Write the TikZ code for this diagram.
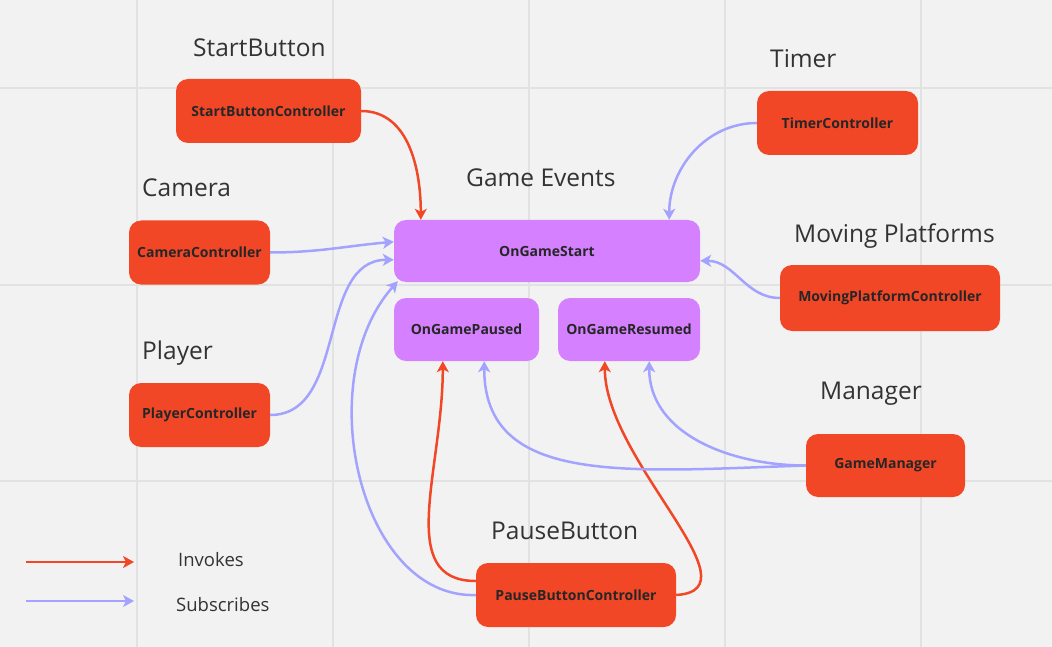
\documentclass[tikz,border=0pt]{standalone}
\usepackage{fontspec}
\setmainfont{Open Sans}
\usetikzlibrary{arrows.meta}
\definecolor{ctrlred}{HTML}{F24726}
\definecolor{evpurple}{HTML}{D580FF}
\definecolor{subblue}{HTML}{A3A3FF}
\definecolor{bggray}{HTML}{F2F2F2}
\definecolor{gridgray}{HTML}{E2E2E2}
\definecolor{labelgray}{HTML}{333333}
\begin{document}
\begin{tikzpicture}[x=1pt,y=-1pt,
  ctrl/.style={fill=ctrlred,rounded corners=12pt,minimum height=64pt,inner sep=0pt,text=black!85,font=\fontsize{14}{16}\selectfont\bfseries},
  event/.style={ctrl,fill=evpurple,minimum height=62pt},
  title/.style={anchor=base west,inner sep=0pt,text=labelgray,font=\fontsize{24.5}{28}\selectfont},
  legend/.style={title,font=\fontsize{18.5}{22}\selectfont},
  invoke/.style={draw=ctrlred,line width=2.5pt,-{Stealth[length=11pt,width=12pt,inset=3pt]}},
  subscribe/.style={invoke,draw=subblue}]
\useasboundingbox[fill=bggray] (0,0) rectangle (1052,647);
\foreach \gx in {137,333,529,725,921} \draw[gridgray,line width=1.2pt] (\gx,0) -- (\gx,647);
\foreach \gy in {88,285,481} \draw[gridgray,line width=1.2pt] (0,\gy) -- (1052,\gy);
\node[ctrl,minimum width=185pt] (sbc) at (268.5,111) {StartButtonController};
\node[ctrl,minimum width=141pt] (camc) at (199.5,252.5) {CameraController};
\node[ctrl,minimum width=141pt] (plc) at (199.5,415) {PlayerController};
\node[ctrl,minimum width=161pt] (tmc) at (837.5,123) {TimerController};
\node[ctrl,minimum width=220pt,minimum height=66pt] (mpc) at (890,298) {MovingPlatformController};
\node[ctrl,minimum width=159pt,minimum height=63pt] (gm) at (885.5,465.5) {GameManager};
\node[ctrl,minimum width=200pt] (pbc) at (576,595) {PauseButtonController};
\node[event,minimum width=306pt] (evstart) at (547,251) {OnGameStart};
\node[event,minimum width=145pt,minimum height=63pt] (evpaused) at (466.5,329.5) {OnGamePaused};
\node[event,minimum width=142pt,minimum height=63pt] (evresumed) at (629,329.5) {OnGameResumed};
\node[title] (sbtitle) at (193,57) {StartButton};
\node[title] (camtitle) at (142,197) {Camera};
\node[title] (evtitle) at (466,187) {Game Events};
\node[title] (tmtitle) at (770,68) {Timer};
\node[title] (mptitle) at (794,242) {Moving Platforms};
\node[title] (pltitle) at (142,359) {Player};
\node[title] (gmtitle) at (820,399) {Manager};
\node[title] (pbtitle) at (491,539) {PauseButton};
\draw[invoke] (sbc.east) to[out=0,in=90] ([xshift=27pt]evstart.north west);
\draw[subscribe] (camc.east) to[out=0,in=185] ([yshift=-22pt]evstart.north west);
\draw[subscribe] (plc.east) to[out=0,in=180] ([yshift=-40pt]evstart.north west);
\draw[subscribe] (pbc.west) .. controls +(-116,4) and +(-88,99) .. ([xshift=4pt,yshift=1pt]evstart.south west);
\draw[invoke] ([yshift=14pt]pbc.west) .. controls +(-81,0) and +(0,109) .. ([xshift=49pt]evpaused.south west);
\draw[invoke] (pbc.east) .. controls +(84,-5) and +(0,99) .. ([xshift=47pt]evresumed.south west);
\draw[subscribe] (gm.west) .. controls +(-180,6) and +(0,125) .. ([xshift=-55pt]evpaused.south east);
\draw[subscribe] (gm.west) to[out=180,in=-90] ([xshift=-51pt]evresumed.south east);
\draw[subscribe] (tmc.west) to[out=180,in=90] ([xshift=-31pt]evstart.north east);
\draw[subscribe] (mpc.west) to[out=180,in=0] ([yshift=-41pt]evstart.north east);
\coordinate (invA) at (26,562);
\coordinate (invB) at (134,562);
\coordinate (subA) at (26,601);
\coordinate (subB) at (134,601);
\draw[invoke] (invA) -- (invB);
\draw[subscribe] (subA) -- (subB);
\node[legend] (invtxt) at (178,566) {Invokes};
\node[legend] (subtxt) at (176,611) {Subscribes};
\end{tikzpicture}
\end{document}
